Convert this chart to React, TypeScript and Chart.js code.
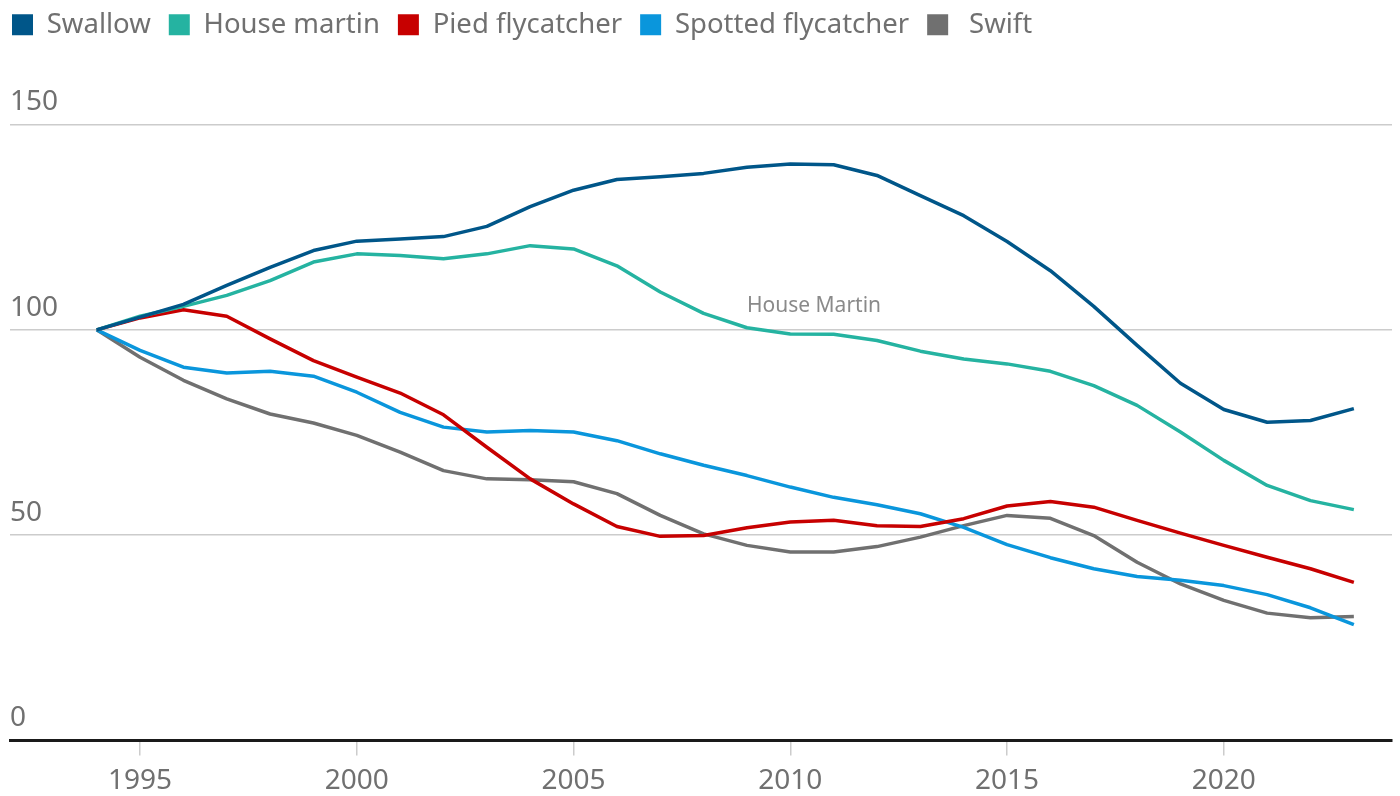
import React, { useEffect, useRef } from "react";
import { Chart, registerables } from "chart.js";

Chart.register(...registerables);

const years = [
  1994, 1995, 1996, 1997, 1998, 1999, 2000, 2001, 2002, 2003, 2004, 2005, 2006, 2007, 2008,
  2009, 2010, 2011, 2012, 2013, 2014, 2015, 2016, 2017, 2018, 2019, 2020, 2021, 2022, 2023,
];

const swallow = [
  100, 103.1, 106.2, 110.8, 115.2, 119.3, 121.6, 122.1, 122.7, 125.2, 130.0, 134.0, 136.6, 137.3, 138.1,
  139.6, 140.4, 140.2, 137.6, 132.7, 127.8, 121.5, 114.4, 105.7, 96.2, 87.0, 80.6, 77.5, 77.9, 80.8,
];
const houseMartin = [
  100, 103.3, 105.7, 108.4, 112.0, 116.5, 118.5, 118.1, 117.3, 118.5, 120.5, 119.7, 115.6, 109.2, 104.0,
  100.5, 99.0, 98.9, 97.4, 94.8, 92.9, 91.7, 89.9, 86.4, 81.6, 75.1, 68.2, 62.1, 58.4, 56.2,
];
const piedFlycatcher = [
  100, 102.9, 104.9, 103.3, 97.8, 92.5, 88.5, 84.6, 79.3, 71.4, 63.7, 57.6, 52.1, 49.7, 49.9,
  51.8, 53.2, 53.6, 52.3, 52.1, 54.0, 57.1, 58.2, 56.8, 53.6, 50.5, 47.5, 44.6, 41.8, 38.5,
];
const spottedFlycatcher = [
  100, 95.0, 90.9, 89.5, 89.9, 88.7, 84.8, 79.9, 76.3, 75.1, 75.5, 75.1, 73.0, 69.8, 67.0,
  64.5, 61.7, 59.2, 57.4, 55.2, 51.9, 47.7, 44.5, 41.8, 39.9, 39.0, 37.7, 35.5, 32.3, 28.2,
];
const swift = [
  100, 93.3, 87.7, 83.2, 79.5, 77.3, 74.3, 70.2, 65.7, 63.7, 63.5, 63.0, 60.1, 54.8, 50.3,
  47.5, 45.9, 45.9, 47.2, 49.5, 52.3, 54.8, 54.1, 49.9, 43.4, 38.1, 34.1, 31.0, 29.9, 30.2,
];

const seriesNames = ["Swallow", "House martin", "Pied flycatcher", "Spotted flycatcher", "Swift"];
const legendTexts = ["Swallow", "House martin", "Pied flycatcher", "Spotted flycatcher", " Swift"];
const seriesColors = ["#005689", "#25b3a1", "#c70000", "#0a96dc", "#707070"];
const seriesValues = [swallow, houseMartin, piedFlycatcher, spottedFlycatcher, swift];

const xTicks = [1995, 2000, 2005, 2010, 2015, 2020];
const yTicks = [0, 50, 100, 150];

const annotationText = "House Martin";
const annotationX = 2009.0;
const annotationY = 105.8;

const FONT = "'Noto Sans', 'Open Sans', sans-serif";
const TEXT_COLOR = "#707070";

export default function App() {
  const canvasRef = useRef<HTMLCanvasElement | null>(null);

  useEffect(() => {
    document.body.style.margin = "0";
    const canvas = canvasRef.current;
    if (!canvas) return;

    const legendTweak = {
      id: "legendTweak",
      beforeLayout(chart: any) {
        const lg = chart.legend;
        if (lg && !lg.__patched) {
          lg.__patched = true;
          const fit = lg.fit;
          lg.fit = function () {
            fit.call(this);
            this.height = 104;
          };
        }
      },
      afterLayout(chart: any) {
        const lg = chart.legend;
        if (lg) {
          lg.left -= 16;
          lg.top -= 7;
        }
      },
    };

    const annotation = {
      id: "annotation",
      afterDatasetsDraw(chart: any) {
        const { ctx, scales } = chart;
        ctx.save();
        ctx.font = `21px ${FONT}`;
        ctx.fillStyle = "#8a8a8a";
        ctx.textAlign = "left";
        ctx.textBaseline = "middle";
        ctx.fillText(
          annotationText,
          scales.x.getPixelForValue(annotationX),
          scales.y.getPixelForValue(annotationY)
        );
        ctx.restore();
      },
    };

    const defaultGen = (Chart as any).defaults.plugins.legend.labels.generateLabels;

    const chart = new Chart(canvas, {
      type: "line",
      data: {
        datasets: seriesNames.map((name, i) => ({
          label: name,
          data: years.map((yr, j) => ({ x: yr, y: seriesValues[i][j] })),
          borderColor: seriesColors[i],
          backgroundColor: seriesColors[i],
          borderWidth: 3.5,
          pointRadius: 0,
          tension: 0,
          borderJoinStyle: "round" as const,
        })),
      },
      options: {
        responsive: false,
        animation: false,
        devicePixelRatio: 1,
        layout: { padding: { left: 10, right: 8, top: 0, bottom: -11 } },
        plugins: {
          tooltip: { enabled: false },
          legend: {
            display: true,
            position: "top",
            align: "start",
            labels: {
              boxWidth: 21,
              boxHeight: 21,
              padding: 18,
              color: TEXT_COLOR,
              font: { family: FONT, size: 27.5 },
              generateLabels: (c: any) =>
                defaultGen(c).map((l: any, i: number) => ({
                  ...l,
                  text: legendTexts[i],
                  lineWidth: 0,
                  strokeStyle: "rgba(0,0,0,0)",
                })),
            },
          },
        },
        scales: {
          x: {
            type: "linear",
            min: 1992,
            max: 2023.88,
            afterBuildTicks: (axis: any) => {
              axis.ticks = xTicks.map((v) => ({ value: v }));
            },
            ticks: {
              color: TEXT_COLOR,
              font: { family: FONT, size: 28 },
              padding: 9,
              maxRotation: 0,
              autoSkip: false,
              callback: (v: any) => String(v),
            },
            grid: {
              drawOnChartArea: false,
              drawTicks: true,
              tickLength: 15,
              color: "#cccccc",
              lineWidth: 1.5,
            },
            border: { display: true, color: "#1a1a1a", width: 3 },
          },
          y: {
            type: "linear",
            min: 0,
            max: 155,
            afterBuildTicks: (axis: any) => {
              axis.ticks = yTicks.map((v) => ({ value: v }));
            },
            ticks: {
              mirror: true,
              padding: 0,
              labelOffset: -22,
              color: TEXT_COLOR,
              font: { family: FONT, size: 28 },
              callback: (v: any) => String(v),
            },
            grid: {
              drawTicks: false,
              color: "#cccccc",
              lineWidth: 1.5,
            },
            border: { display: false },
          },
        },
      },
      plugins: [legendTweak, annotation],
    } as any);

    return () => chart.destroy();
  }, []);

  return (
    <div style={{ position: "absolute", left: 0, top: 0, width: 1400, height: 796 }}>
      <canvas ref={canvasRef} width={1400} height={796} style={{ width: 1400, height: 796 }} />
    </div>
  );
}
